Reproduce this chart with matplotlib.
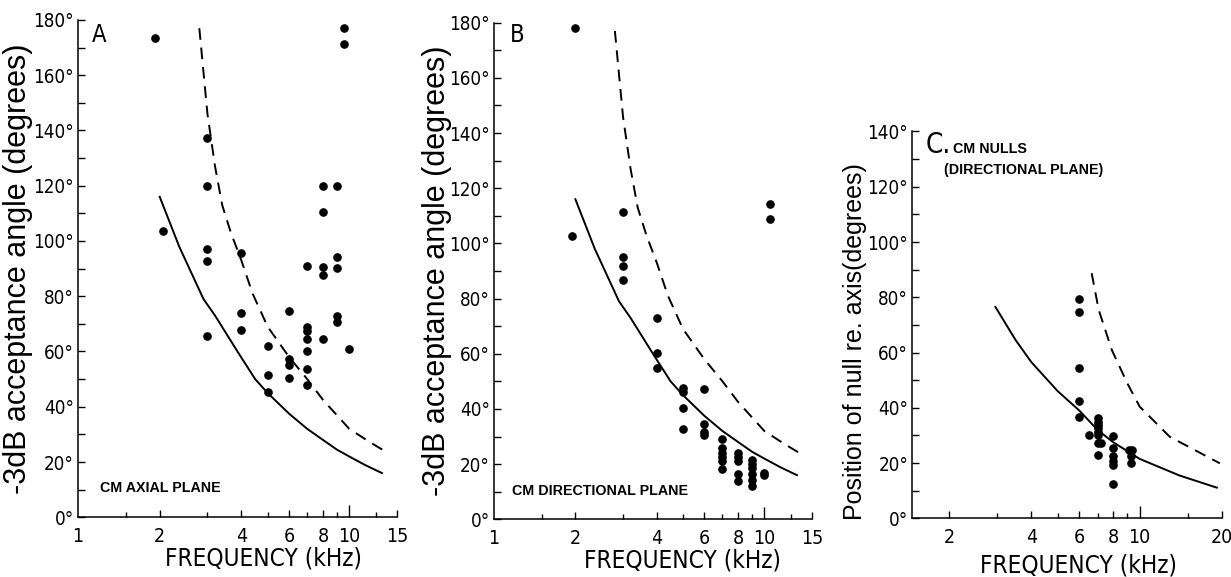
import matplotlib
matplotlib.use('Agg')
import matplotlib.pyplot as plt
from matplotlib import font_manager as fm
from matplotlib.ticker import FixedLocator, NullFormatter

# pick the narrowest installed face for ticks / x labels
_fonts = fm.fontManager.ttflist
_names = {f.name for f in _fonts}
if 'Liberation Sans Narrow' in _names:
    narrow, stretch = 'Liberation Sans Narrow', 'normal'
elif any(f.name == 'DejaVu Sans' and f.stretch == 'condensed' for f in _fonts):
    narrow, stretch = 'DejaVu Sans', 'condensed'
else:
    narrow, stretch = 'Roboto', 'normal'
plt.rcParams['font.family'] = [narrow, 'DejaVu Sans']
plt.rcParams['font.stretch'] = stretch

# ---- panel A : CM axial plane ----
a_freq = [1.93, 2.05, 3, 3, 3, 3, 3, 4, 4, 4, 5, 5, 5, 6, 6, 6, 6,
          7, 7, 7, 7, 7, 7, 7, 8, 8, 8, 8, 8, 9, 9, 9, 9, 9, 9.6, 9.6, 10]
a_deg = [173.5, 103.6, 137.3, 120, 97, 92.7, 65.6, 95.7, 74, 67.8, 62.1, 51.6, 45.5,
         74.8, 57.2, 55.1, 50.5, 91, 69, 67.5, 64.4, 60.3, 53.6, 47.8,
         120, 110.6, 90.7, 87.7, 64.4, 120, 94.3, 90.1, 73, 70.6, 177, 171.2, 60.8]

# ---- panel B : CM directional plane ----
b_freq = [1.95, 2.0, 3, 3, 3, 3, 4, 4, 4, 5, 5, 5, 5, 6, 6, 6, 6,
          7, 7, 7, 7, 7, 7, 8, 8, 8, 8, 8, 9, 9, 9, 9, 9, 9, 10, 10, 10.5, 10.5]
b_deg = [102.8, 178.1, 111.3, 95.1, 91.9, 86.8, 73.1, 60.2, 54.7, 47.5, 46.2, 40.5, 32.6,
         47.2, 34.4, 31.5, 30.5, 29.2, 25.7, 23.9, 22.5, 21.2, 18.2,
         23.9, 22.5, 21.2, 16.4, 13.9, 21.5, 20, 18.5, 16.4, 14.2, 12.1, 16.7, 16.0, 114.3, 108.7]

# ---- panel C : CM nulls ----
c_freq = [6, 6, 6, 6, 6, 6.5, 7, 7, 7, 7, 7, 7, 7, 7, 7.2,
          8, 8, 8, 8, 8, 8, 9.1, 9.3, 9.3, 9.4]
c_deg = [79.4, 74.5, 54.3, 42.5, 36.8, 30.1, 36.4, 35, 33.8, 32.6, 31.3, 30.1, 27.4, 22.9, 27.4,
         29.8, 25.3, 22.5, 20.8, 19.3, 12.4, 24.7, 22.5, 20.1, 24.7]

# model curves (A and B share them)
ab_solid_f = [2.0, 2.36, 2.9, 3.2, 3.9, 4.5, 5, 6, 7, 8, 9, 10, 11.5, 13.2]
ab_solid_deg = [116, 98, 79, 73, 59.5, 50, 45, 37.5, 32, 28, 24.5, 22, 18.8, 16]
ab_dash_f = [2.8, 3.0, 3.2, 3.4, 3.66, 4.0, 4.4, 5.0, 6.0, 7.0, 8.0, 10, 12, 13.5]
ab_dash_deg = [177, 146, 127, 113, 103, 93, 81, 69, 58, 50, 42.5, 32, 27, 24]
c_solid_f = [2.95, 3.5, 4, 5, 6, 7, 8, 10, 14, 19.2]
c_solid_deg = [76.5, 64.5, 56.5, 46, 39, 32, 27.5, 21.5, 15.5, 11.1]
c_dash_f = [6.66, 7.07, 7.9, 9.0, 10, 12.9, 19.7]
c_dash_deg = [88.7, 75.4, 60.9, 48.9, 40.4, 29.5, 19.9]

ab_xticks = [1, 2, 4, 6, 8, 10, 15]
ab_xminor = [1.5, 3, 5, 7, 9, 12.5]
c_xticks = [2, 4, 6, 8, 10, 20]
c_xminor = [3, 5, 7, 9, 15]


def style(ax, xlo, xhi, ymax, xticks, xminor):
    ax.set_xscale('log')
    ax.set_xlim(xlo, xhi)
    ax.set_ylim(0, ymax)
    for s in ['top', 'right']:
        ax.spines[s].set_visible(False)
    for s in ['left', 'bottom']:
        ax.spines[s].set_linewidth(1.1)
    ax.xaxis.set_major_locator(FixedLocator(xticks))
    ax.set_xticklabels([str(t) for t in xticks])
    ax.xaxis.set_minor_locator(FixedLocator(xminor))
    ax.xaxis.set_minor_formatter(NullFormatter())
    yt = list(range(0, ymax + 1, 20))
    ax.yaxis.set_major_locator(FixedLocator(yt))
    ax.set_yticklabels([f'{v}°' for v in yt])
    ax.yaxis.set_minor_locator(FixedLocator(list(range(10, ymax, 20))))
    ax.tick_params(axis='both', which='both', direction='in', width=1.0)
    ax.tick_params(axis='y', which='both', length=5, labelsize=13.5, pad=3)
    ax.tick_params(axis='x', which='major', length=5, labelsize=14, pad=7)
    ax.tick_params(axis='x', which='minor', length=3.5)
    for t, v in zip(ax.xaxis.get_major_ticks(), xticks):
        if v == 10:
            t.tick1line.set_markersize(8.5)
        if v == 1:
            t.tick1line.set_visible(False)


fig = plt.figure(figsize=(12.31, 5.77), dpi=100)
axA = fig.add_axes([0.0634, 0.1035, 0.2591, 0.862])
axB = fig.add_axes([0.4013, 0.100, 0.2583, 0.8607])
axC = fig.add_axes([0.7411, 0.1017, 0.2513, 0.6704])

wide = ['Liberation Sans', 'DejaVu Sans']
dash = (0, (6, 4))
for ax, fx, dy in [(axA, a_freq, a_deg), (axB, b_freq, b_deg)]:
    style(ax, 1, 15, 180, ab_xticks, ab_xminor)
    ax.plot(ab_solid_f, ab_solid_deg, color='black', lw=1.4)
    ax.plot(ab_dash_f, ab_dash_deg, color='black', lw=1.4, linestyle=dash)
    ax.plot(fx, dy, 'o', color='black', ms=5.2, clip_on=False)
    ax.set_ylabel('-3dB acceptance angle (degrees)', family=wide, stretch='normal', fontsize=22)
    ax.set_xlabel('FREQUENCY (kHz)', fontsize=17.5)

style(axC, 1.46, 20, 140, c_xticks, c_xminor)
axC.plot(c_solid_f, c_solid_deg, color='black', lw=1.4)
axC.plot(c_dash_f, c_dash_deg, color='black', lw=1.4, linestyle=dash)
axC.plot(c_freq, c_deg, 'o', color='black', ms=5.2, clip_on=False)
axC.set_ylabel('Position of null re. axis(degrees)', family=wide, stretch='normal', fontsize=18)
axC.set_xlabel('FREQUENCY (kHz)', fontsize=17.5)

axA.yaxis.set_label_coords(-0.14, 0.5)
axB.yaxis.set_label_coords(-0.132, 0.5)
axC.yaxis.set_label_coords(-0.148, 0.458)
axA.xaxis.set_label_coords(0.583, -0.058)
axB.xaxis.set_label_coords(0.593, -0.058)
axC.xaxis.set_label_coords(0.536, -0.09)

axA.text(0.044, 0.956, 'A', transform=axA.transAxes, fontsize=17, va='baseline')
axB.text(0.05, 0.962, 'B', transform=axB.transAxes, fontsize=17, va='baseline')
axC.text(0.042, 0.944, 'C.', transform=axC.transAxes, fontsize=20, va='baseline')

small = dict(family=wide, stretch='normal', fontsize=10.3, fontweight='bold', va='baseline')
axA.text(0.069, 0.051, 'CM AXIAL PLANE', transform=axA.transAxes, **small)
axB.text(0.056, 0.049, 'CM DIRECTIONAL PLANE', transform=axB.transAxes, **small)
axC.text(0.13, 0.944, 'CM NULLS', transform=axC.transAxes, **small)
axC.text(0.102, 0.891, '(DIRECTIONAL PLANE)', transform=axC.transAxes, **small)

fig.savefig('out.png', dpi=100)
